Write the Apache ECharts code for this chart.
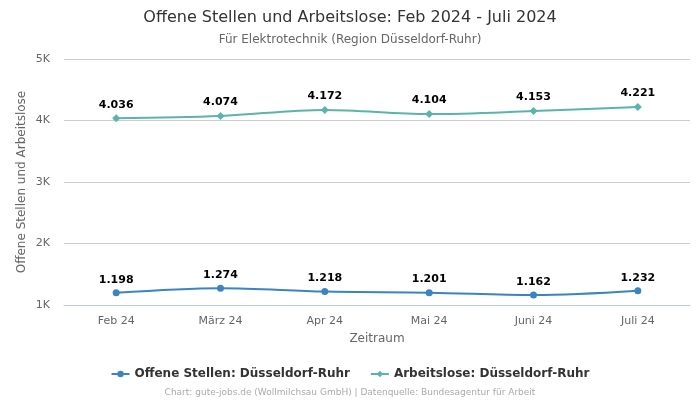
<!DOCTYPE html>
<html><head><meta charset="utf-8">
<script src="https://cdn.jsdelivr.net/npm/echarts@6/dist/echarts.min.js"></script>
<style>html,body{margin:0;padding:0;background:#fff}#c{width:700px;height:400px}</style>
</head><body><div id="c"></div>
<script>
const categories = ['Feb 24','März 24','Apr 24','Mai 24','Juni 24','Juli 24'];
const offeneStellen = [1198,1274,1218,1201,1162,1232];
const arbeitslose = [4036,4074,4172,4104,4153,4221];
const yTicks = [1000,2000,3000,4000,5000];

const fmtDE = v => String(v).replace(/\B(?=(\d{3})+(?!\d))/g, '.');
const chart = echarts.init(document.getElementById('c'), null, {renderer:'canvas'});
const F = 'DejaVu Sans';
chart.setOption({
  animation:false,
  textStyle:{fontFamily:F},
  title:[
    {text:'Offene Stellen und Arbeitslose: Feb 2024 - Juli 2024', left:'center', top:5,
     textStyle:{fontFamily:F, fontSize:16, fontWeight:'normal', color:'#333'}},
    {text:'Für Elektrotechnik (Region Düsseldorf-Ruhr)', left:'center', top:29,
     textStyle:{fontFamily:F, fontSize:12, fontWeight:'normal', color:'#666'}},
    {text:'Chart: gute-jobs.de (Wollmilchsau GmbH) | Datenquelle: Bundesagentur für Arbeit', left:'center', top:383,
     textStyle:{fontFamily:F, fontSize:9, fontWeight:'normal', color:'#aaa'}}
  ],
  legend:{bottom:15, left:'center', itemGap:20, itemWidth:18, itemHeight:8,
    textStyle:{fontFamily:F, fontSize:12, fontWeight:'bold', color:'#333'},
    data:['Offene Stellen: Düsseldorf-Ruhr','Arbeitslose: Düsseldorf-Ruhr']},
  grid:{left:64, right:10, top:59, bottom:95},
  xAxis:{type:'category', data:categories, boundaryGap:true,
    name:'Zeitraum', nameLocation:'middle', nameGap:28,
    nameTextStyle:{fontFamily:F, fontSize:12, color:'#666'},
    axisLine:{lineStyle:{color:'#b8cce4'}}, axisTick:{show:false},
    axisLabel:{fontFamily:F, fontSize:11, color:'#666', margin:11}},
  yAxis:{type:'value', min:yTicks[0], max:yTicks[yTicks.length-1], interval:1000,
    name:'Offene Stellen und Arbeitslose', nameLocation:'middle', nameGap:36, nameMoveOverlap:false,
    nameTextStyle:{fontFamily:F, fontSize:12, color:'#666'},
    axisLine:{show:false}, axisTick:{show:false},
    axisLabel:{fontFamily:F, fontSize:11, color:'#666', margin:14, formatter:v=>(v/1000)+'K'},
    splitLine:{lineStyle:{color:'#ccc'}}},
  series:[
    {name:'Offene Stellen: Düsseldorf-Ruhr', type:'line', data:offeneStellen, smooth:0.35,
     symbol:'circle', symbolSize:7, itemStyle:{color:'#3a84c0'}, lineStyle:{width:2, color:'#3a84c0'},
     label:{show:true, position:'top', distance:4, fontFamily:F, fontSize:11, fontWeight:'bold', color:'#000', formatter:p=>fmtDE(p.value)}},
    {name:'Arbeitslose: Düsseldorf-Ruhr', type:'line', data:arbeitslose, smooth:0.35,
     symbol:'diamond', symbolSize:8, itemStyle:{color:'#5ab4ac'}, lineStyle:{width:2, color:'#5ab4ac'},
     label:{show:true, position:'top', distance:4, fontFamily:F, fontSize:11, fontWeight:'bold', color:'#000', formatter:p=>fmtDE(p.value)}}
  ]
});
</script></body></html>
